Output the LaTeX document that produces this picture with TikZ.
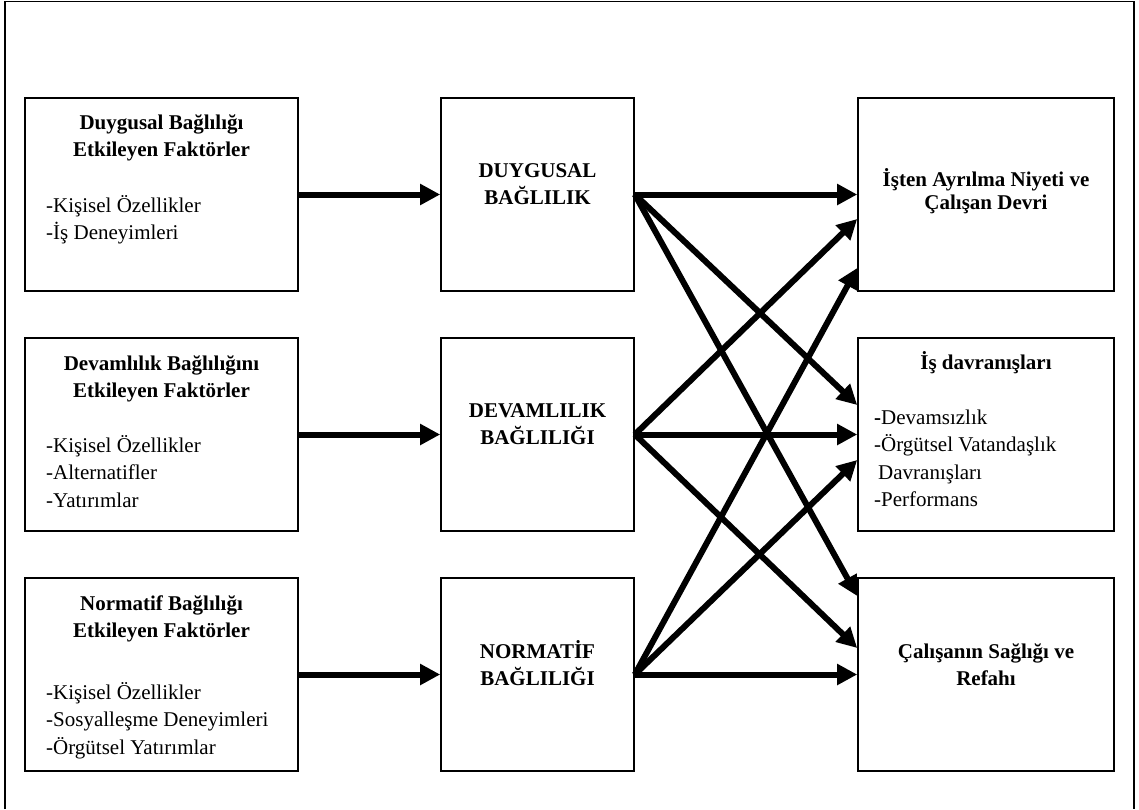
\documentclass[tikz,border=0pt]{standalone}
\usepackage{fontspec}
\setmainfont{Liberation Serif}
\usetikzlibrary{arrows.meta}
% stacked lines whose baseline is the first line
\newcommand{\stackedlines}[2]{\begin{tabular}[t]{@{}#1@{}}#2\end{tabular}}
\begin{document}
\begin{tikzpicture}[x=1pt,y=-1pt,
  box/.style={draw, line width=1.6pt, fill=white, inner sep=0pt, minimum height=193pt},
  lbox/.style={box, minimum width=273pt},
  mbox/.style={box, minimum width=193pt},
  rbox/.style={box, minimum width=256pt},
  txt/.style={inner sep=0pt, font=\fontsize{21pt}{27.5pt}\selectfont},
  head/.style={txt, font=\fontsize{21pt}{27.5pt}\selectfont\bfseries},
  link/.style={line width=6pt, -{Triangle[length=20pt,width=20pt]}}]
\useasboundingbox (0,0) rectangle (1139,809);

% outer frame
\draw[line width=1.6pt] (5,809) -- (5,1.5) -- (1134,1.5) -- (1134,809);

% boxes
\node[lbox] (l1) at (161.5,194.5) {};
\node[lbox] (l2) at (161.5,434.5) {};
\node[lbox] (l3) at (161.5,674.5) {};
\node[mbox] (m1) at (537.5,194.5) {};
\node[mbox] (m2) at (537.5,434.5) {};
\node[mbox] (m3) at (537.5,674.5) {};
\node[rbox] (r1) at (986,194.5) {};
\node[rbox] (r2) at (986,434.5) {};
\node[rbox] (r3) at (986,674.5) {};

% left column texts
\node[head, anchor=base] (l1h) at (161.5,129) {\stackedlines{c}{Duygusal Bağlılığı\\Etkileyen Faktörler}};
\node[txt, anchor=base west] (l1b) at (46,212) {\stackedlines{l}{-Kişisel Özellikler\\-İş Deneyimleri}};
\node[head, anchor=base] (l2h) at (161.5,370) {\stackedlines{c}{Devamlılık Bağlılığını\\Etkileyen Faktörler}};
\node[txt, anchor=base west] (l2b) at (46,452) {\stackedlines{l}{-Kişisel Özellikler\\-Alternatifler\\-Yatırımlar}};
\node[head, anchor=base] (l3h) at (161.5,610) {\stackedlines{c}{Normatif Bağlılığı\\Etkileyen Faktörler}};
\node[txt, anchor=base west] (l3b) at (46,699) {\stackedlines{l}{-Kişisel Özellikler\\-Sosyalleşme Deneyimleri\\-Örgütsel Yatırımlar}};

% middle column texts
\node[head, anchor=base] (m1h) at (537.5,177) {\stackedlines{c}{DUYGUSAL\\BAĞLILIK}};
\node[head, anchor=base] (m2h) at (537.5,417) {\stackedlines{c}{DEVAMLILIK\\BAĞLILIĞI}};
\node[head, anchor=base] (m3h) at (537.5,658) {\stackedlines{c}{NORMATİF\\BAĞLILIĞI}};

% right column texts
\node[head, anchor=base, font=\fontsize{21pt}{23.5pt}\selectfont\bfseries] (r1h) at (986,186) {\stackedlines{c}{İşten Ayrılma Niyeti ve\\Çalışan Devri}};
\node[head, anchor=base] (r2h) at (986,369) {İş davranışları};
\node[txt, anchor=base west] (r2b) at (874,424) {\stackedlines{l}{\textbf{-}Devamsızlık\\-Örgütsel Vatandaşlık\\\hspace*{4pt}Davranışları\\-Performans}};
\node[head, anchor=base] (r3h) at (986,658) {\stackedlines{c}{Çalışanın Sağlığı ve\\Refahı}};

% factors -> commitment
\draw[link] (l1.east) -- (m1.west);
\draw[link] (l2.east) -- (m2.west);
\draw[link] (l3.east) -- (m3.west);

% commitment -> outcomes
\draw[link] (m1.east) -- (r1.west);
\draw[link] (m1.east) -- ([yshift=29.5pt]r2.west);
\draw[link] (m1.east) -- ([yshift=78.5pt]r3.west);
\draw[link] (m2.east) -- ([yshift=-24.5pt]r1.west);
\draw[link] (m2.east) -- (r2.west);
\draw[link] (m2.east) -- ([yshift=26.5pt]r3.west);
\draw[link] (m3.east) -- ([yshift=-73.5pt]r1.west);
\draw[link] (m3.east) -- ([yshift=-25.5pt]r2.west);
\draw[link] (m3.east) -- (r3.west);
\end{tikzpicture}
\end{document}
